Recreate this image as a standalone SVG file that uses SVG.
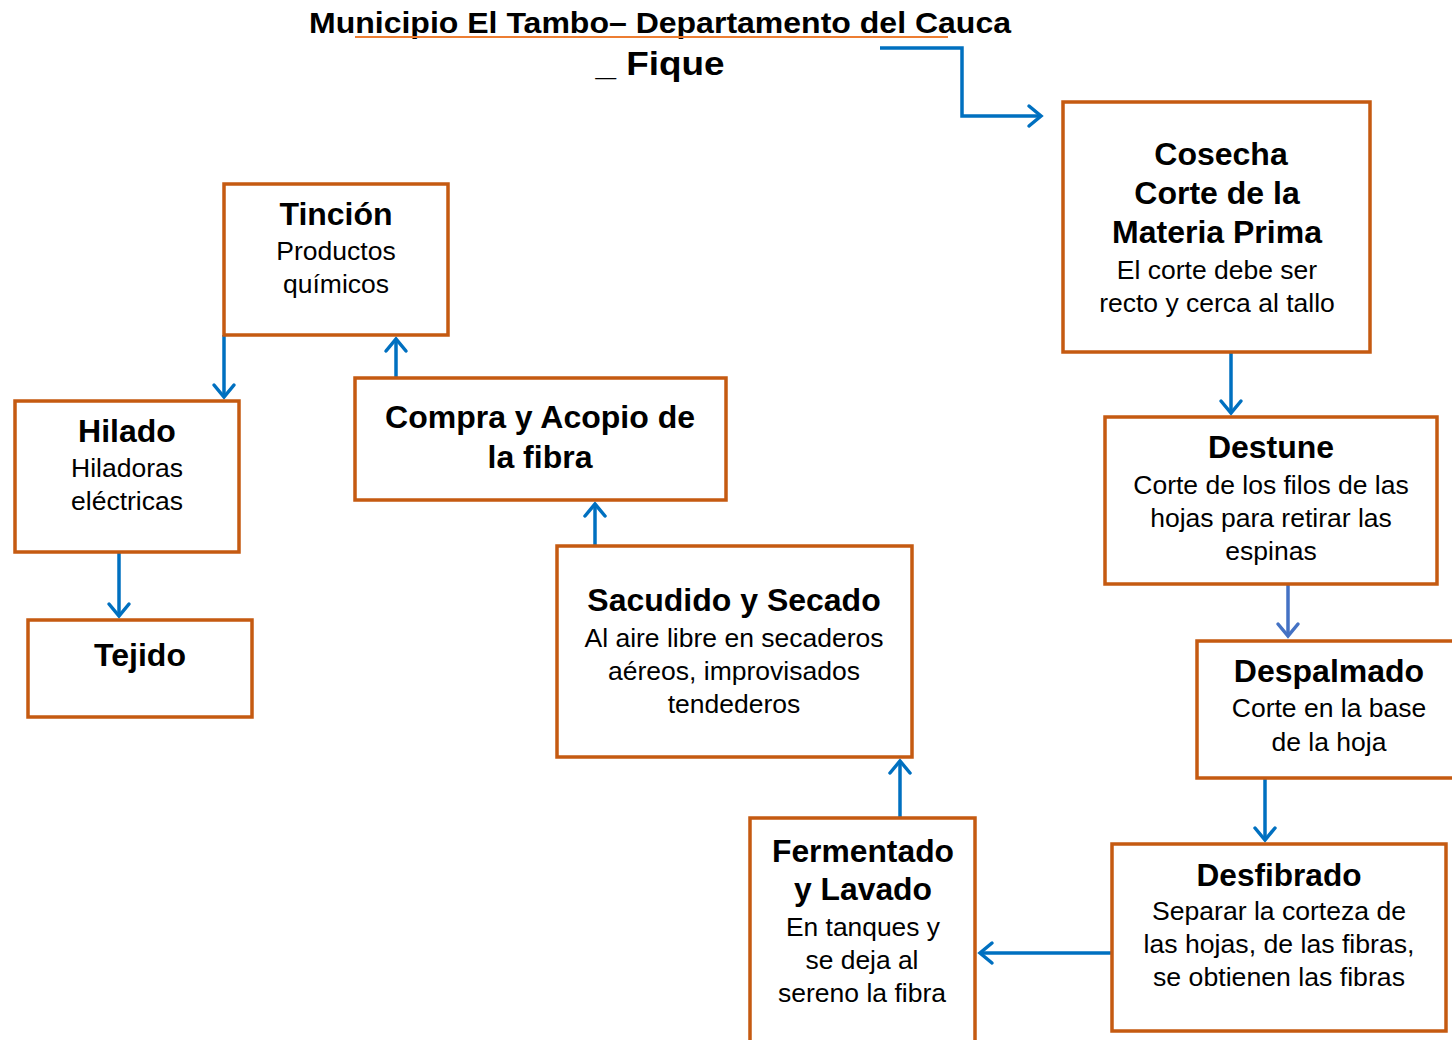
<svg xmlns="http://www.w3.org/2000/svg" width="1452" height="1040" viewBox="0 0 1452 1040">
<style>
.box{fill:#fff;stroke:#C55A11;stroke-width:3.5}
.t{font-family:"Liberation Sans",Arial,sans-serif;font-weight:bold;font-size:32px;fill:#000;text-anchor:middle}
.s{font-family:"Liberation Sans",Arial,sans-serif;font-size:26.5px;fill:#000;text-anchor:middle}
.c{stroke:#0070C0;stroke-width:3.5;fill:none;marker-end:url(#ah)}
</style>
<defs>
<marker id="ah" markerUnits="userSpaceOnUse" markerWidth="30" markerHeight="30" viewBox="-15 -15 30 30" refX="0" refY="0" orient="auto">
<path d="M-12,-10 L0,0 L-12,10" fill="none" stroke="#0070C0" stroke-width="3.5" stroke-linecap="round"/>
</marker>
<marker id="ah2" markerUnits="userSpaceOnUse" markerWidth="30" markerHeight="30" viewBox="-15 -15 30 30" refX="0" refY="0" orient="auto">
<path d="M-12,-10 L0,0 L-12,10" fill="none" stroke="#4472C4" stroke-width="3.5" stroke-linecap="round"/>
</marker>
</defs>
<rect width="1452" height="1040" fill="#fff"/>
<g id="title">
<text class="t" x="660" y="33" textLength="702" lengthAdjust="spacingAndGlyphs" style="font-size:30px">Municipio El Tambo– Departamento del Cauca</text>
<line x1="355" y1="37" x2="948" y2="37" stroke="#ED7D31" stroke-width="2"/>
<text class="t" x="660" y="75" textLength="129" lengthAdjust="spacingAndGlyphs" style="font-size:34px">_ Fique</text>
</g>
<g id="connectors">
<path class="c" d="M880,48 H962 V116 H1041"/>
<path class="c" d="M1231,352 V413"/>
<path d="M1288,584 V636" stroke="#4472C4" stroke-width="3.5" fill="none" marker-end="url(#ah2)"/>
<path class="c" d="M1265,778 V840"/>
<path class="c" d="M1112,953 H980"/>
<path class="c" d="M900,818 V761"/>
<path class="c" d="M595,546 V504"/>
<path class="c" d="M396,378 V339"/>
<path class="c" d="M224,335 V397"/>
<path class="c" d="M119,552 V616"/>
</g>
<g id="cosecha">
<rect class="box" x="1063" y="102" width="307" height="250"/>
<text class="t" x="1221" y="165">Cosecha</text>
<text class="t" x="1217" y="204">Corte de la</text>
<text class="t" x="1217" y="243">Materia Prima</text>
<text class="s" x="1217" y="279">El corte debe ser</text>
<text class="s" x="1217" y="312">recto y cerca al tallo</text>
</g>
<g id="destune">
<rect class="box" x="1105" y="417" width="332" height="167"/>
<text class="t" x="1271" y="458">Destune</text>
<text class="s" x="1271" y="494">Corte de los filos de las</text>
<text class="s" x="1271" y="527">hojas para retirar las</text>
<text class="s" x="1271" y="560">espinas</text>
</g>
<g id="despalmado">
<rect class="box" x="1197" y="641" width="270" height="137"/>
<text class="t" x="1329" y="682">Despalmado</text>
<text class="s" x="1329" y="717">Corte en la base</text>
<text class="s" x="1329" y="751">de la hoja</text>
</g>
<g id="desfibrado">
<rect class="box" x="1112" y="844" width="334" height="187"/>
<text class="t" x="1279" y="886" textLength="165" lengthAdjust="spacingAndGlyphs">Desfibrado</text>
<text class="s" x="1279" y="920" textLength="254" lengthAdjust="spacingAndGlyphs">Separar la corteza de</text>
<text class="s" x="1279" y="953" textLength="271" lengthAdjust="spacingAndGlyphs">las hojas, de las fibras,</text>
<text class="s" x="1279" y="986" textLength="252" lengthAdjust="spacingAndGlyphs">se obtienen las fibras</text>
</g>
<g id="fermentado">
<rect class="box" x="750" y="818" width="225" height="240"/>
<text class="t" x="863" y="862" textLength="182" lengthAdjust="spacingAndGlyphs">Fermentado</text>
<text class="t" x="863" y="900" textLength="138" lengthAdjust="spacingAndGlyphs">y Lavado</text>
<text class="s" x="863" y="936" textLength="154" lengthAdjust="spacingAndGlyphs">En tanques y</text>
<text class="s" x="862" y="969" textLength="113" lengthAdjust="spacingAndGlyphs">se deja al</text>
<text class="s" x="862" y="1002" textLength="168" lengthAdjust="spacingAndGlyphs">sereno la fibra</text>
</g>
<g id="sacudido">
<rect class="box" x="557" y="546" width="355" height="211"/>
<text class="t" x="734" y="611">Sacudido y Secado</text>
<text class="s" x="734" y="647">Al aire libre en secaderos</text>
<text class="s" x="734" y="680">aéreos, improvisados</text>
<text class="s" x="734" y="713">tendederos</text>
</g>
<g id="compra">
<rect class="box" x="355" y="378" width="371" height="122"/>
<text class="t" x="540" y="428">Compra y Acopio de</text>
<text class="t" x="540" y="468">la fibra</text>
</g>
<g id="tincion">
<rect class="box" x="224" y="184" width="224" height="151"/>
<text class="t" x="336" y="225">Tinción</text>
<text class="s" x="336" y="260">Productos</text>
<text class="s" x="336" y="293">químicos</text>
</g>
<g id="hilado">
<rect class="box" x="15" y="401" width="224" height="151"/>
<text class="t" x="127" y="442">Hilado</text>
<text class="s" x="127" y="477">Hiladoras</text>
<text class="s" x="127" y="510">eléctricas</text>
</g>
<g id="tejido">
<rect class="box" x="28" y="620" width="224" height="97"/>
<text class="t" x="140" y="666">Tejido</text>
</g>
</svg>
